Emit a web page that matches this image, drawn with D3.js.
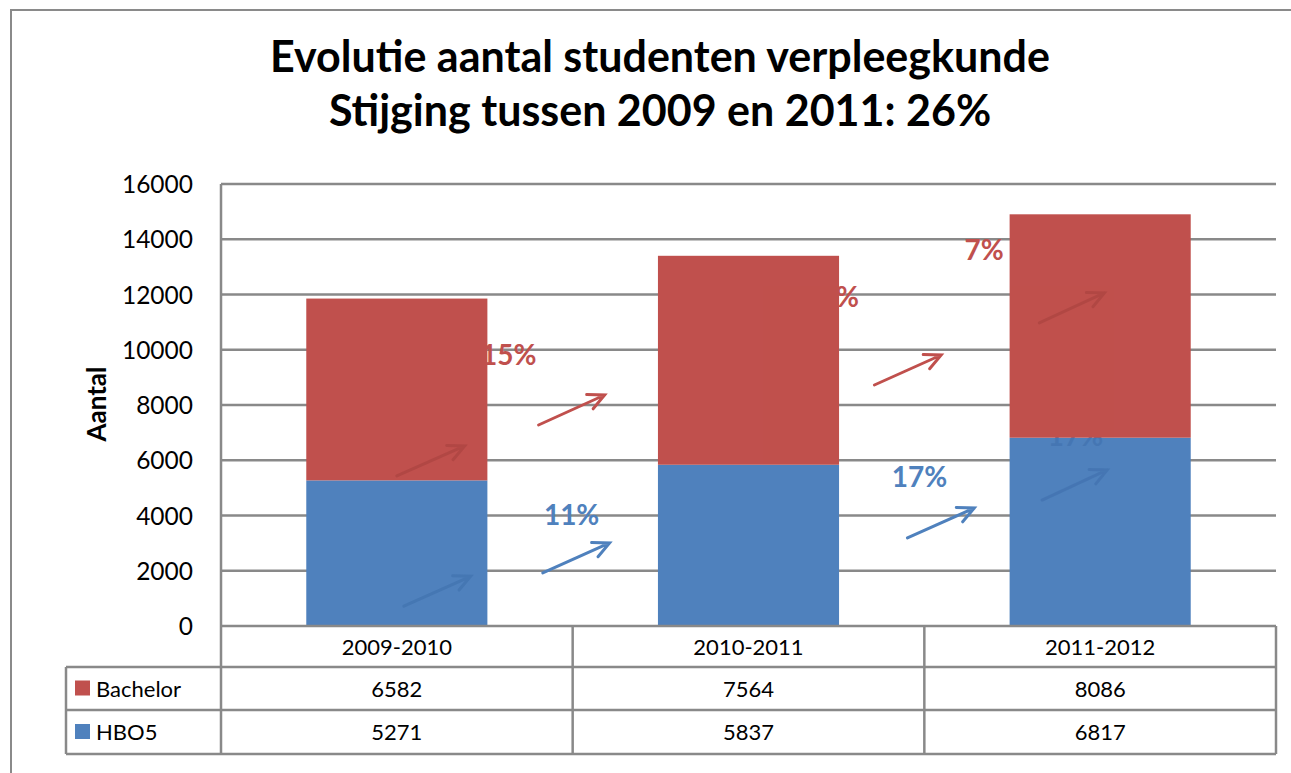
<!DOCTYPE html>
<html>
<head>
<meta charset="utf-8">
<script src="https://cdn.jsdelivr.net/npm/d3@7"></script>
<style>
  body { margin: 0; background: #fff; }
  svg { display: block; font-family: Lato, "Open Sans", sans-serif; }
</style>
</head>
<body>
<svg id="chart" width="1291" height="773"></svg>
<script>
// data
const categories = ['2009-2010', '2010-2011', '2011-2012'];
const bachelor = [6582, 7564, 8086];
const hbo5 = [5271, 5837, 6817];
const yTicks = [0, 2000, 4000, 6000, 8000, 10000, 12000, 14000, 16000];
const titleLines = ['Evolutie aantal studenten verpleegkunde', 'Stijging tussen 2009 en 2011: 26%'];

// growth annotations, x in category units (0..3), y in chart values
const pctLabels = [
  { text: '15%', x: 0.818, y: 9810, s: 'bachelor' },
  { text: '11%', x: 0.997, y: 4018, s: 'hbo5' },
  { text: '13%', x: 1.735, y: 11910, s: 'bachelor' },
  { text: '17%', x: 1.986, y: 5394, s: 'hbo5' },
  { text: '7%', x: 2.170, y: 13611, s: 'bachelor' },
  { text: '17%', x: 2.43, y: 6870, s: 'hbo5' }
];
const arrows = [
  { x0: 0.50, y0: 5430, x1: 0.693, y1: 6516, s: 'bachelor' },
  { x0: 0.52, y0: 720, x1: 0.71, y1: 1800, s: 'hbo5' },
  { x0: 0.903, y0: 7276, x1: 1.091, y1: 8362, s: 'bachelor' },
  { x0: 0.915, y0: 1919, x1: 1.105, y1: 3005, s: 'hbo5' },
  { x0: 1.858, y0: 8724, x1: 2.048, y1: 9810, s: 'bachelor' },
  { x0: 1.952, y0: 3186, x1: 2.142, y1: 4271, s: 'hbo5' },
  { x0: 2.327, y0: 10970, x1: 2.512, y1: 12060, s: 'bachelor' },
  { x0: 2.335, y0: 4560, x1: 2.520, y1: 5650, s: 'hbo5' }
];

const colors = { bachelor: '#C0504D', hbo5: '#4F81BD' };
const shadeColors = { bachelor: '#7A2522', hbo5: '#1F4E8C' };
const gridColor = '#898989';

const svg = d3.select('#chart');
const plotLeft = 221, plotRight = 1276, plotTop = 184, plotBottom = 626;
const rowH = [41, 43, 44];

const y = d3.scaleLinear().domain([0, 16000]).range([plotBottom, plotTop]);
const xb = d3.scaleBand().domain(categories).range([plotLeft, plotRight]).padding(0);
const xa = d3.scaleLinear().domain([0, 3]).range([plotLeft, plotRight]);

// outer frame
svg.append('path')
  .attr('d', `M11,773 V10 H1291`)
  .attr('fill', 'none').attr('stroke', '#8a8a8a').attr('stroke-width', 2);

// title
svg.append('g').selectAll('text').data(titleLines).join('text')
  .attr('x', 660).attr('y', (d, i) => 72 + i * 54)
  .attr('text-anchor', 'middle')
  .attr('font-size', 43).attr('font-weight', 'bold')
  .attr('fill', '#000')
  .text(d => d);

// grid
svg.append('g').selectAll('line').data(yTicks.filter(d => d > 0)).join('line')
  .attr('x1', plotLeft).attr('x2', plotRight)
  .attr('y1', d => y(d)).attr('y2', d => y(d))
  .attr('stroke', gridColor).attr('stroke-width', 2.5);

// y axis labels
svg.append('g').selectAll('text').data(yTicks).join('text')
  .attr('x', 193).attr('y', d => y(d) + 9)
  .attr('text-anchor', 'end')
  .attr('font-size', 24.5).attr('fill', '#000')
  .text(d => d);

svg.append('text')
  .attr('transform', `translate(106,${(plotTop + plotBottom) / 2 - 1}) rotate(-90)`)
  .attr('text-anchor', 'middle')
  .attr('font-size', 26).attr('font-weight', 'bold')
  .text('Aantal');

function arrowPath(d) {
  const x0 = xa(d.x0), y0 = y(d.y0), x1 = xa(d.x1), y1 = y(d.y1);
  const ang = Math.atan2(y1 - y0, x1 - x0);
  const L = 18, spread = 0.45;
  const ax = x1 - L * Math.cos(ang - spread), ay = y1 - L * Math.sin(ang - spread);
  const bx = x1 - L * Math.cos(ang + spread), by = y1 - L * Math.sin(ang + spread);
  return `M${x0},${y0} L${x1},${y1} M${ax},${ay} L${x1},${y1} L${bx},${by}`;
}

// annotations under the bars
const ann = svg.append('g');
ann.selectAll('text').data(pctLabels).join('text')
  .attr('x', d => xa(d.x)).attr('y', d => y(d.y) + 10)
  .attr('text-anchor', 'middle')
  .attr('font-size', 28).attr('font-weight', 'bold')
  .attr('fill', d => colors[d.s])
  .text(d => d.text);
ann.selectAll('path').data(arrows).join('path')
  .attr('d', arrowPath)
  .attr('stroke', d => colors[d.s]).attr('stroke-width', 3)
  .attr('fill', 'none').attr('stroke-linecap', 'round');

// stacked bars
const stackData = categories.map((c, i) => ({ cat: c, hbo5: hbo5[i], bachelor: bachelor[i] }));
const series = d3.stack().keys(['hbo5', 'bachelor'])(stackData);
const barW = xb.bandwidth() * 0.515;
const barX = d => xb(d.data.cat) + (xb.bandwidth() - barW) / 2;
svg.append('g').selectAll('g').data(series).join('g')
  .attr('fill', d => colors[d.key])
  .selectAll('rect').data(d => d).join('rect')
  .attr('x', barX)
  .attr('width', barW)
  .attr('y', d => y(d[1]))
  .attr('height', d => y(d[0]) - y(d[1]));

// faint shadow of the marks that sit behind the bars
const defs = svg.append('defs');
defs.append('clipPath').attr('id', 'barClip')
  .selectAll('rect').data(series.flat()).join('rect')
  .attr('x', barX).attr('width', barW)
  .attr('y', d => y(d[1])).attr('height', d => y(d[0]) - y(d[1]));
defs.append('clipPath').attr('id', 'hboClip')
  .selectAll('rect').data(series[0]).join('rect')
  .attr('x', barX).attr('width', barW)
  .attr('y', d => y(d[1])).attr('height', d => y(d[0]) - y(d[1]));

svg.append('g').attr('clip-path', 'url(#barClip)').attr('opacity', 0.2)
  .selectAll('path').data(arrows).join('path')
  .attr('d', arrowPath)
  .attr('stroke', d => shadeColors[d.s]).attr('stroke-width', 3)
  .attr('fill', 'none').attr('stroke-linecap', 'round');
svg.append('g').attr('clip-path', 'url(#hboClip)').attr('opacity', 0.2)
  .selectAll('text').data(pctLabels.filter(d => d.s === 'hbo5')).join('text')
  .attr('x', d => xa(d.x)).attr('y', d => y(d.y) + 10)
  .attr('text-anchor', 'middle')
  .attr('font-size', 28).attr('font-weight', 'bold')
  .attr('fill', d => shadeColors[d.s])
  .text(d => d.text);

// data table
const tbl = svg.append('g').attr('stroke', gridColor).attr('stroke-width', 2.5).attr('fill', 'none');
const rowY = [plotBottom, plotBottom + rowH[0], plotBottom + rowH[0] + rowH[1], plotBottom + rowH[0] + rowH[1] + rowH[2]];
const legendLeft = 66;
tbl.append('line').attr('x1', plotLeft).attr('x2', plotRight).attr('y1', rowY[0]).attr('y2', rowY[0]);
[1, 2, 3].forEach(i => {
  tbl.append('line').attr('x1', legendLeft).attr('x2', plotRight).attr('y1', rowY[i]).attr('y2', rowY[i]);
});
tbl.append('line').attr('x1', plotLeft).attr('x2', plotLeft).attr('y1', plotTop).attr('y2', rowY[3]);
tbl.append('line').attr('x1', legendLeft).attr('x2', legendLeft).attr('y1', rowY[1]).attr('y2', rowY[3]);
categories.forEach(c => {
  const xr = xb(c) + xb.bandwidth();
  tbl.append('line').attr('x1', xr).attr('x2', xr).attr('y1', rowY[0]).attr('y2', rowY[3]);
});

const txt = svg.append('g').attr('font-size', 22).attr('fill', '#000').attr('text-anchor', 'middle');
txt.selectAll('text.cat').data(categories).join('text').attr('class', 'cat')
  .attr('x', d => xb(d) + xb.bandwidth() / 2)
  .attr('y', (rowY[0] + rowY[1]) / 2 + 8)
  .text(d => d);

const rows = [
  { name: 'Bachelor', key: 'bachelor', values: bachelor },
  { name: 'HBO5', key: 'hbo5', values: hbo5 }
];
rows.forEach((r, ri) => {
  const cy = (rowY[ri + 1] + rowY[ri + 2]) / 2;
  txt.selectAll(`text.v${ri}`).data(r.values).join('text').attr('class', `v${ri}`)
    .attr('x', (d, i) => xb(categories[i]) + xb.bandwidth() / 2)
    .attr('y', cy + 8)
    .text(d => d);
  svg.append('rect')
    .attr('x', 75).attr('y', cy - 8).attr('width', 15).attr('height', 15)
    .attr('fill', colors[r.key]);
  svg.append('text')
    .attr('x', 96).attr('y', cy + 8)
    .attr('font-size', 22).attr('fill', '#000')
    .text(r.name);
});
</script>
</body>
</html>
